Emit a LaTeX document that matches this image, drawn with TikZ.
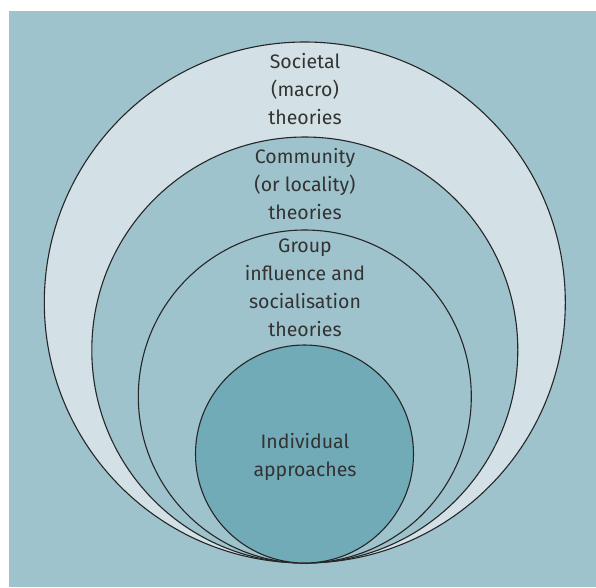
\documentclass[tikz,border=0pt]{standalone}
\usepackage{fontspec}
\setmainfont{Fira Sans}
\definecolor{bgteal}{HTML}{9FC3CC}
\definecolor{paleteal}{HTML}{D3E1E6}
\definecolor{midteal}{HTML}{9EC3CC}
\definecolor{deepteal}{HTML}{72ABB8}
\definecolor{inkgray}{HTML}{333333}
\begin{document}
\begin{tikzpicture}[x=1pt,y=-1pt,
  ring/.style={draw=black!85, line width=1.1pt, circle, inner sep=0pt},
  label/.style={text=inkgray, align=center, font=\fontsize{19.5}{28}\selectfont}]
  \useasboundingbox (0,0) rectangle (596,587);
  \fill[bgteal] (9,11) rectangle (596,587);
  % nested circles, all touching at the bottom
  \node[ring, fill=paleteal, minimum size=521pt] (societal) at (304.8,302.5) {};
  \node[ring, fill=midteal, minimum size=426pt] (community) at (304.8,350) {};
  \node[ring, fill=midteal, minimum size=333pt] (group) at (304.8,396.5) {};
  \node[ring, fill=deepteal, minimum size=218pt] (individual) at (304.5,454) {};
  % labels
  \node[label] (tsoc) at (305,89) {Societal\\(macro)\\theories};
  \node[label] (tcom) at (305,184) {Community\\(or locality)\\theories};
  \node[label] (tgrp) at (305,288) {Group\\influence and\\socialisation\\theories};
  \node[label] (tind) at (305,457) {Individual\\approaches};
\end{tikzpicture}
\end{document}
